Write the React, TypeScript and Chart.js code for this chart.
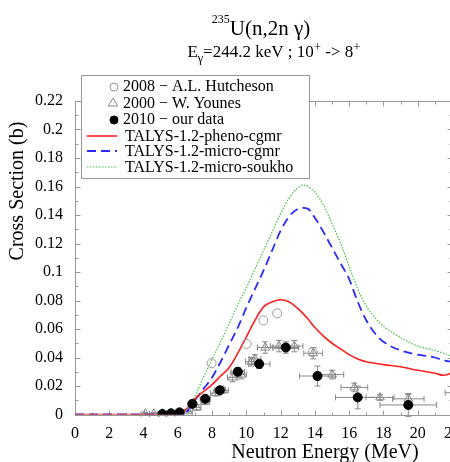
import React, { useEffect, useRef } from 'react';
import { Chart, registerables } from 'chart.js';

Chart.register(...registerables);

// ---- Data ----
const curveEnergy = [0, 5, 6, 6.3, 6.6, 7, 7.5, 8, 8.5, 9, 9.5, 10, 10.5, 11, 11.5, 12, 12.5, 13, 13.3, 13.6, 14, 14.5, 15, 15.5, 16, 16.5, 17, 17.5, 18, 19, 20, 21, 21.5, 22];
const phenoCgmr = [0, 0, 0.0005, 0.002, 0.005, 0.011, 0.016, 0.021, 0.027, 0.033, 0.043, 0.0545, 0.066, 0.0755, 0.079, 0.0805, 0.079, 0.0745, 0.071, 0.067, 0.061, 0.055, 0.05, 0.046, 0.042, 0.039, 0.037, 0.036, 0.035, 0.0335, 0.031, 0.029, 0.0275, 0.029];
const microCgmr = [0, 0, 0, 0.0005, 0.003, 0.01, 0.018, 0.026, 0.037, 0.049, 0.061, 0.075, 0.088, 0.101, 0.115, 0.129, 0.139, 0.1443, 0.145, 0.1443, 0.138, 0.128, 0.117, 0.106, 0.095, 0.079, 0.066, 0.057, 0.051, 0.045, 0.042, 0.04, 0.038, 0.037];
const microSoukho = [0, 0, 0, 0.001, 0.004, 0.013, 0.026, 0.039, 0.051, 0.064, 0.077, 0.089, 0.102, 0.115, 0.128, 0.141, 0.152, 0.159, 0.161, 0.16, 0.156, 0.147, 0.134, 0.12, 0.104, 0.088, 0.076, 0.068, 0.062, 0.054, 0.048, 0.045, 0.043, 0.041];

const hutchesonE = [7.97, 10.02, 10.99, 11.8, 13.87];
const hutchesonXS = [0.036, 0.0495, 0.066, 0.071, 0.0437];

const younesE = [4.1, 4.6, 5.1, 5.6, 6.1, 6.6, 7.1, 7.6, 8.2, 8.65, 9.2, 9.7, 10.3, 10.5, 11.1, 11.9, 12.8, 13.9, 15.0, 16.3, 17.8, 19.45, 22.6];
const younesXS = [0.0005, 0.0005, 0.0008, 0.0008, 0.001, 0.002, 0.005, 0.009, 0.015, 0.017, 0.026, 0.028, 0.037, 0.039, 0.047, 0.048, 0.048, 0.043, 0.028, 0.019, 0.012, 0.011, 0.0153];
const younesEErr = [0.25, 0.25, 0.25, 0.25, 0.25, 0.25, 0.25, 0.25, 0.3, 0.3, 0.3, 0.3, 0.35, 0.35, 0.45, 0.5, 0.5, 0.55, 0.68, 0.78, 0.82, 0.92, 1.0];
const younesXSErr = [0.001, 0.001, 0.001, 0.001, 0.001, 0.001, 0.002, 0.002, 0.002, 0.002, 0.003, 0.003, 0.003, 0.003, 0.004, 0.004, 0.004, 0.004, 0.003, 0.003, 0.002, 0.003, 0.002];

const ourE = [5.1, 5.6, 6.1, 6.85, 7.6, 8.45, 9.5, 10.75, 12.3, 14.15, 16.5, 19.45];
const ourXS = [0.0003, 0.0008, 0.0015, 0.0075, 0.011, 0.017, 0.03, 0.0354, 0.047, 0.027, 0.012, 0.0067];
const ourEErr = [0.2, 0.2, 0.2, 0.25, 0.3, 0.3, 0.4, 0.63, 0.75, 1.05, 1.3, 1.65];
const ourXSErr = [0.0005, 0.0005, 0.001, 0.002, 0.002, 0.002, 0.003, 0.003, 0.004, 0.007, 0.008, 0.008];

const xTicksStep = 2;
const yTicksStep = 0.02;

const FONT = '"Liberation Serif", "Times New Roman", serif';

const pts = (xs: number[], ys: number[]) => xs.map((x, i) => ({ x, y: ys[i] }));

function drawRich(ctx: CanvasRenderingContext2D, segs: { t: string; size: number; dy: number }[], cx: number, baseline: number) {
  let w = 0;
  for (const s of segs) {
    ctx.font = `${s.size}px ${FONT}`;
    w += ctx.measureText(s.t).width;
  }
  let x = cx - w / 2;
  ctx.textAlign = 'left';
  ctx.textBaseline = 'alphabetic';
  for (const s of segs) {
    ctx.font = `${s.size}px ${FONT}`;
    ctx.fillText(s.t, x, baseline + s.dy);
    x += ctx.measureText(s.t).width;
  }
}

const framePlugin = {
  id: 'frame',
  beforeDatasetsDraw(chart: any) {
    const { ctx, chartArea: a, scales } = chart;
    const x = scales.x, y = scales.y;
    ctx.save();
    ctx.strokeStyle = '#999';
    ctx.lineWidth = 1;
    const L = Math.round(a.left) + 0.5, R = Math.round(a.right) + 0.5;
    const T = Math.round(a.top) + 0.5, B = Math.round(a.bottom) + 0.5;
    ctx.strokeRect(L, T, R - L, B - T);
    ctx.beginPath();
    for (let v = 0; v <= 22; v += 1) {
      const px = Math.round(x.getPixelForValue(v)) + 0.5;
      const len = v % 2 === 0 ? 5 : 3;
      ctx.moveTo(px, B); ctx.lineTo(px, B - len);
      ctx.moveTo(px, T); ctx.lineTo(px, T + len);
    }
    for (let i = 0; i <= 22; i++) {
      const v = i * 0.01;
      const py = Math.round(y.getPixelForValue(v)) + 0.5;
      const len = i % 2 === 0 ? 5 : 3;
      ctx.moveTo(L, py); ctx.lineTo(L + len, py);
      ctx.moveTo(R, py); ctx.lineTo(R - len, py);
    }
    ctx.stroke();

    // error bars
    ctx.beginPath();
    ctx.rect(a.left, a.top, a.right - a.left, a.bottom - a.top + 6);
    ctx.clip();
    ctx.strokeStyle = '#8a8a8a';
    ctx.beginPath();
    chart.data.datasets.forEach((ds: any) => {
      if (!ds.errX) return;
      ds.data.forEach((p: any, i: number) => {
        const cx = x.getPixelForValue(p.x), cy = y.getPixelForValue(p.y);
        const x0 = x.getPixelForValue(p.x - ds.errX[i]), x1 = x.getPixelForValue(p.x + ds.errX[i]);
        const y0 = y.getPixelForValue(p.y - ds.errY[i]), y1 = y.getPixelForValue(p.y + ds.errY[i]);
        ctx.moveTo(x0, cy); ctx.lineTo(x1, cy);
        ctx.moveTo(x0, cy - 3); ctx.lineTo(x0, cy + 3);
        ctx.moveTo(x1, cy - 3); ctx.lineTo(x1, cy + 3);
        if (Math.abs(y1 - y0) > 2) {
          ctx.moveTo(cx, y0); ctx.lineTo(cx, y1);
          ctx.moveTo(cx - 3, y0); ctx.lineTo(cx + 3, y0);
          ctx.moveTo(cx - 3, y1); ctx.lineTo(cx + 3, y1);
        }
      });
    });
    ctx.stroke();
    ctx.restore();
  },
};

const textPlugin = {
  id: 'texts',
  afterDraw(chart: any) {
    const { ctx } = chart;
    const ds = chart.data.datasets;
    ctx.save();
    ctx.fillStyle = '#000';
    // Title
    drawRich(ctx, [
      { t: '235', size: 12, dy: -12 },
      { t: 'U(n,2n γ)', size: 21, dy: 0 },
    ], 261, 35);
    drawRich(ctx, [
      { t: 'E', size: 17, dy: 0 },
      { t: 'γ', size: 12, dy: 5 },
      { t: '=244.2 keV ; 10', size: 17, dy: 0 },
      { t: '+', size: 13, dy: -6 },
      { t: ' -> 8', size: 17, dy: 0 },
      { t: '+', size: 13, dy: -6 },
    ], 274, 57);

    // Axis titles
    ctx.font = `20px ${FONT}`;
    ctx.textAlign = 'center';
    ctx.textBaseline = 'alphabetic';
    ctx.fillText('Neutron Energy (MeV)', 325, 458);
    ctx.save();
    ctx.translate(18, 191);
    ctx.rotate(-Math.PI / 2);
    ctx.textBaseline = 'middle';
    ctx.fillText('Cross Section (b)', 0, 0);
    ctx.restore();

    // Legend
    const bx = 81, by = 75, bw = 228, bh = 103;
    ctx.fillStyle = '#fff';
    ctx.fillRect(bx, by, bw, bh);
    ctx.strokeStyle = '#999';
    ctx.lineWidth = 1;
    ctx.strokeRect(bx + 0.5, by + 0.5, bw, bh);
    const rows = [ds[1], ds[2], ds[0], ds[3], ds[4], ds[5]];
    const rowY = [86, 103, 119, 136, 151, 167];
    ctx.font = `16px ${FONT}`;
    ctx.textBaseline = 'middle';
    ctx.textAlign = 'left';
    rows.forEach((d: any, i: number) => {
      const cy = rowY[i];
      if (d.showLine) {
        ctx.save();
        ctx.strokeStyle = d.borderColor;
        ctx.lineWidth = d.borderWidth;
        ctx.setLineDash(d.borderDash || []);
        ctx.beginPath();
        ctx.moveTo(87, cy); ctx.lineTo(117, cy);
        ctx.stroke();
        ctx.restore();
        ctx.fillStyle = '#000';
        ctx.fillText(d.label, 125, cy + 1);
      } else {
        ctx.save();
        ctx.strokeStyle = d.borderColor;
        ctx.fillStyle = d.backgroundColor;
        ctx.lineWidth = 1;
        ctx.beginPath();
        if (d.pointStyle === 'triangle') {
          const r = 5;
          ctx.moveTo(113, cy - r);
          ctx.lineTo(113 + r * 0.95, cy + r * 0.6);
          ctx.lineTo(113 - r * 0.95, cy + r * 0.6);
          ctx.closePath();
        } else {
          ctx.arc(114, cy + 1, 4, 0, Math.PI * 2);
        }
        ctx.fill();
        ctx.stroke();
        ctx.restore();
        ctx.fillStyle = '#000';
        ctx.fillText(d.label, 123, cy + 1);
      }
    });
    ctx.restore();
  },
};

export default function App() {
  const ref = useRef<HTMLCanvasElement | null>(null);
  useEffect(() => {
    if (!ref.current) return;
    const tickFont = { family: FONT, size: 16 };
    const chart = new Chart(ref.current, {
      type: 'scatter',
      data: {
        datasets: [
          {
            label: '2010 − our data',
            data: pts(ourE, ourXS),
            pointStyle: 'circle',
            pointRadius: 4.5,
            backgroundColor: '#000',
            borderColor: '#000',
            borderWidth: 1,
            showLine: false,
            errX: ourEErr,
            errY: ourXSErr,
          } as any,
          {
            label: '2008 − A.L. Hutcheson',
            data: pts(hutchesonE, hutchesonXS),
            pointStyle: 'circle',
            pointRadius: 4.5,
            backgroundColor: 'rgba(255,255,255,0)',
            borderColor: '#999',
            borderWidth: 1,
            showLine: false,
          },
          {
            label: '2000 − W. Younes',
            data: pts(younesE, younesXS),
            pointStyle: 'triangle',
            pointRadius: 5,
            backgroundColor: 'rgba(255,255,255,0)',
            borderColor: '#888',
            borderWidth: 1,
            showLine: false,
            errX: younesEErr,
            errY: younesXSErr,
          } as any,
          {
            type: 'line',
            label: 'TALYS-1.2-pheno-cgmr',
            data: pts(curveEnergy, phenoCgmr),
            borderColor: '#ff2020',
            borderWidth: 1.6,
            pointRadius: 0,
            showLine: true,
            fill: false,
            cubicInterpolationMode: 'monotone',
          },
          {
            type: 'line',
            label: 'TALYS-1.2-micro-cgmr',
            data: pts(curveEnergy, microCgmr),
            borderColor: '#2a2aff',
            borderWidth: 1.8,
            borderDash: [9, 5],
            pointRadius: 0,
            showLine: true,
            fill: false,
            cubicInterpolationMode: 'monotone',
          },
          {
            type: 'line',
            label: 'TALYS-1.2-micro-soukho',
            data: pts(curveEnergy, microSoukho),
            borderColor: '#44c044',
            borderWidth: 1.2,
            borderDash: [1.5, 1.5],
            pointRadius: 0,
            showLine: true,
            fill: false,
            cubicInterpolationMode: 'monotone',
          },
        ],
      },
      options: {
        animation: false,
        responsive: false,
        devicePixelRatio: 1,
        layout: { padding: { top: 101, right: 18, left: 0, bottom: 0 } },
        plugins: {
          legend: { display: false },
          tooltip: { enabled: false },
          title: { display: false },
        },
        scales: {
          x: {
            type: 'linear',
            min: 0,
            max: 22,
            grid: { display: false },
            border: { display: false },
            ticks: {
              stepSize: xTicksStep,
              color: '#000',
              font: tickFont,
              padding: 2,
              maxRotation: 0,
              autoSkip: false,
            },
            afterFit: (s: any) => { s.height = 47.5; },
          },
          y: {
            type: 'linear',
            min: 0,
            max: 0.22,
            grid: { display: false },
            border: { display: false },
            ticks: {
              stepSize: yTicksStep,
              color: '#000',
              font: tickFont,
              padding: 4,
              autoSkip: false,
              callback: (v: any) => String(+Number(v).toFixed(2)),
            },
            afterFit: (s: any) => { s.width = 75; },
          },
        },
      },
      plugins: [framePlugin, textPlugin],
    } as any);
    return () => chart.destroy();
  }, []);
  return (
    <div style={{ position: 'fixed', left: 0, top: 0, width: 450, height: 462, overflow: 'hidden', background: '#fff' }}>
      <canvas ref={ref} width={470} height={462} style={{ display: 'block', width: 470, height: 462 }} />
    </div>
  );
}
